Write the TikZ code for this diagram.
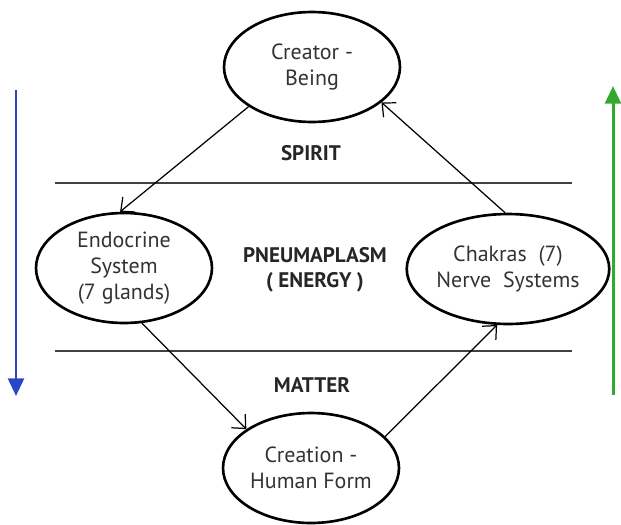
\documentclass[tikz,border=0pt]{standalone}
\usepackage{fontspec}
\setmainfont{PT Sans}
\usetikzlibrary{shapes.geometric,arrows.meta}
\tikzset{
	stage/.style={ellipse,draw,line width=1.5pt,minimum width=3.52cm,minimum height=2.2cm,inner sep=0pt,align=center,font=\fontsize{12.5}{15}\selectfont,text=black!80},
	realm/.style={font=\fontsize{12}{14}\selectfont\bfseries,align=center,text=black!85},
	flow/.style={-{Straight Barb[length=6pt,width=11pt]},line width=0.7pt},
	layer/.style={line width=1pt,black!75},
	drift/.style={-{Triangle[length=10pt,width=9pt]},line width=1.7pt}
}
\definecolor{downblue}{RGB}{40,70,200}
\definecolor{upgreen}{RGB}{50,170,50}
\begin{document}
\begin{tikzpicture}[x=0.02cm,y=-0.02cm]
	\useasboundingbox (0,0) rectangle (621,524);
	% the four stages
	\node[stage] (creator) at (312,67) {Creator -\\Being};
	\node[stage] (endocrine) at (124,268) {Endocrine\\System\\(7 glands)};
	\node[stage] (chakras) at (508,269) {Chakras\ \ (7)\\Nerve\ \ Systems};
	\node[stage] (creation) at (311,468) {Creation -\\Human Form};
	% layers
	\node[realm] (spirit) at (311,153) {SPIRIT};
	\node[realm] (pneuma) at (315,270) {PNEUMAPLASM\\( ENERGY )};
	\node[realm] (matter) at (312,385) {MATTER};
	\draw[layer] (55,183) -- (572,183);
	\draw[layer] (55,351) -- (572,351);
	% cycle
	\draw[flow] (creator.212) -- (endocrine.94);
	\draw[flow] (endocrine.288) -- (creation.149);
	\draw[flow] (creation.23) -- (chakras.259);
	\draw[flow] (chakras.93) -- (creator.333);
	% side arrows
	\coordinate (downtop) at (16,90);
	\coordinate (downend) at (16,396);
	\coordinate (uptop) at (613,86);
	\coordinate (upend) at (613,395);
	\draw[drift,downblue] (downtop) -- (downend);
	\draw[drift,upgreen] (upend) -- (uptop);
\end{tikzpicture}
\end{document}
